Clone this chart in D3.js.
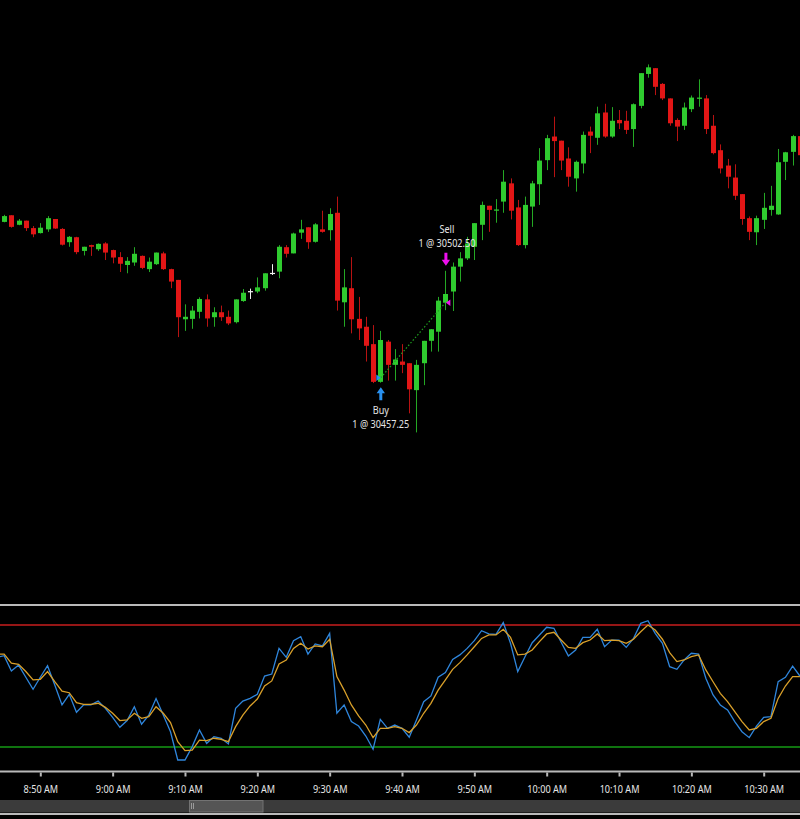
<!DOCTYPE html>
<html><head><meta charset="utf-8">
<script src="https://cdn.jsdelivr.net/npm/d3@7/dist/d3.min.js"></script>
<style>
html,body{margin:0;padding:0;background:#000;overflow:hidden;}
svg{display:block;}
text{font-family:"Segoe UI","Noto Sans","Open Sans",sans-serif;}
</style></head><body>
<svg id="chart" width="800" height="819"></svg>
<script>
// ---------------- DATA ----------------
const firstBarTime = "08:45";
const barMinutes = 1;

const opens = [
30551.25,30555.25,30549.5,30552,30547.5,30544.5,30546.75,30553,30547,30539,
30542,30533.75,30537.25,30534.75,30538.25,30534.25,30530,30525.25,30526.75,30530.75,
30522.75,30525.75,30532.25,30522.75,30516.25,30492.5,30492.75,30497,30504.5,30493.75,
30496.75,30494,30490.75,30503.5,30509.5,30509.25,30511.25,30520.5,30521.25,30536,
30532.25,30544.75,30548,30539.25,30546.75,30546.25,30556.75,30502.75,30511.25,30492.75,
30488,30477.5,30454.75,30479,30465,30467,30466,30449.75,30466,30479.5,
30485,30502.5,30509.25,30524.25,30529.25,30536.25,30549.5,30561,30558,30563.5,
30574.5,30560,30537.25,30560.5,30574,30588.5,30602.75,30600.25,30589.5,30577.5,
30586.5,30605.75,30602,30617.25,30602.75,30612.75,30612.25,30607.25,30621.25,30640.5,
30644,30634.5,30625.75,30612.75,30609.25,30619.25,30625.5,30625.75,30609.25,30594.5,
30585.25,30578,30568,30553.5,30545,30552.5,30558.5,30555.75,30587.5,30593.5,
30603];
const highs = [
30555.5,30555.25,30553,30552,30548.75,30550.5,30554.75,30553,30547.5,30542.75,
30542.25,30536.25,30537.5,30538.25,30539,30534.5,30533,30530,30536,30531,
30529.75,30532.75,30533.25,30523,30516.25,30501.5,30500.5,30505.75,30507.5,30499.75,
30500.75,30497.75,30504.5,30510.75,30511,30517.75,30520.25,30525.75,30537.25,30537.25,
30544.75,30552.5,30548,30550.5,30558,30559.5,30566.5,30522.75,30530,30506,
30494,30489,30485.5,30480,30474.5,30477.5,30466,30468,30479.5,30486.5,
30506,30521.75,30526.75,30533,30542.25,30550.5,30563.5,30561,30565,30582.5,
30577.5,30564.5,30566.5,30576,30595.75,30603.75,30614.75,30600.25,30596.25,30588.25,
30605.75,30608.75,30620.75,30622.5,30620.5,30618.75,30618.25,30622.75,30641,30646.25,
30644,30635,30625.75,30613.75,30623.25,30627.5,30637.25,30627.75,30615.75,30598,
30589.25,30586,30568,30554.5,30555,30568.75,30573,30595.25,30593.5,30603.75,
30609.75];
const lows = [
30551,30547.75,30549.25,30545.75,30542,30544.25,30545.25,30547,30537,30536.25,
30531.75,30531,30530.75,30533.75,30528.25,30526.25,30521,30520.25,30524.75,30522.75,
30521,30525.25,30522.25,30511.25,30481.75,30485.5,30486.75,30493,30488,30488,
30491.5,30489,30490,30503,30504.75,30508.25,30509.75,30519.25,30517.25,30529.75,
30532.25,30541,30535,30538.75,30544.75,30540,30497.75,30488,30484,30480,
30467,30454,30454.25,30455.5,30455.5,30460,30435.75,30424.25,30452.75,30473,
30473,30498,30497.5,30515.25,30528.25,30528.25,30540.25,30545.25,30550.75,30556.75,
30552.75,30536.75,30535.25,30548.25,30561.5,30582.5,30578.25,30582.5,30572.5,30569.5,
30580.5,30592.75,30597.75,30602,30602,30607.25,30604.25,30596.5,30619.75,30638.25,
30627.75,30624.75,30609.25,30600,30606.75,30617.5,30620.75,30604.25,30592,30580.5,
30571.5,30564.5,30549.5,30540.25,30537.25,30547,30555,30555.5,30576.5,30585.25,
30589.75];
const closes = [
30554.75,30548.25,30552,30547.5,30543.75,30547.75,30553.5,30547.25,30537.5,30542.25,
30533,30536.25,30536.25,30538,30532.75,30529.75,30526,30527.75,30532,30523.5,
30527.25,30532.75,30522.75,30515.25,30493.75,30494,30497.75,30504.75,30493,30496.75,
30493.75,30490,30504.5,30508.5,30509.5,30511.75,30520.25,30520.5,30536.25,30532,
30544.25,30546.75,30539,30549.75,30545.25,30556,30503.75,30511.75,30492.5,30487,
30476.5,30454.75,30480,30465,30468.25,30465,30450.25,30465,30479.5,30486.5,
30503.75,30507.75,30524.25,30529.25,30538.25,30550.5,30561.5,30558.5,30558.75,30575.5,
30558,30537.25,30561.5,30574.5,30588.25,30601.75,30600,30588.25,30578.5,30587.5,
30603.75,30603.25,30616.75,30602.75,30612.25,30610.75,30606.75,30622.25,30641,30644.5,
30632.75,30625.75,30610.75,30608.75,30620.25,30626.25,30626.25,30607.25,30592.75,30583.5,
30578.5,30567,30553,30545.25,30553.5,30559.75,30561,30587.25,30593.25,30603,
30591.5];

// Stochastics (%K blue, %D orange), first value at stochStartTime
const stochStartTime = "08:44";
const stochK = [
64.1,64.9,57.4,60.3,54.3,48.4,54.3,60.0,50.5,40.7,
45.9,37.1,40.7,40.7,42.6,39.0,34.6,29.7,33.0,39.8,
31.2,35.7,43.8,35.7,27.5,13.6,13.6,20.2,28.4,21.8,
25.1,24.3,21.5,39.0,42.6,43.9,45.9,54.9,55.9,68.5,
64.1,72.3,74.3,65.7,70.7,69.7,75.9,36.6,40.7,32.5,
30.3,25.4,18.9,33.6,29.2,30.8,29.2,24.8,33.3,42.3,
45.1,54.3,56.6,63.1,65.3,68.5,72.3,77.2,75.6,75.4,
81.2,71.0,57.1,64.4,71.3,75.1,78.9,78.4,71.5,64.8,
67.7,73.9,73.9,77.9,69.3,72.6,72.6,69.0,73.4,80.8,
82.1,75.9,71.0,59.5,58.2,62.8,66.1,65.7,53.8,45.6,
40.7,38.2,32.5,27.5,24.6,30.3,34.6,34.9,52.1,54.3,
59.8,54.9];
const stochD = [
65.7,65.7,61.2,60.7,57.1,53.0,53.3,57.1,52.1,47.5,
46.7,41.8,41.0,41.0,41.5,39.5,36.6,33.0,33.3,36.6,
34.1,34.9,39.8,36.6,32.0,22.6,18.2,18.5,23.4,23.1,
24.3,23.8,22.6,30.0,35.7,40.2,43.6,50.0,52.5,60.8,
62.8,68.5,71.0,68.2,69.7,69.3,73.0,54.6,48.0,40.7,
35.3,30.8,24.6,29.2,29.2,30.0,29.2,27.1,30.8,36.6,
41.5,48.0,53.0,58.2,61.5,65.3,69.3,73.4,75.1,75.1,
77.9,73.9,65.3,65.7,67.7,71.8,75.6,76.4,72.6,69.0,
68.5,71.3,72.6,75.6,72.3,72.6,72.3,71.0,73.0,76.7,
80.0,77.5,73.0,66.4,62.0,62.8,64.4,65.3,57.9,52.1,
46.4,42.3,37.4,32.5,28.4,29.2,32.5,34.1,43.9,50.0,
54.6,54.6];
const overbought = 80, oversold = 20;

const tickLabels = ["8:50 AM","9:00 AM","9:10 AM","9:20 AM","9:30 AM","9:40 AM",
                    "9:50 AM","10:00 AM","10:10 AM","10:20 AM","10:30 AM"];

const trades = [
  {side:"Buy",  time:"09:37", qty:1, price:30457.25},
  {side:"Sell", time:"09:46", qty:1, price:30502.50}
];

// ---------------- LAYOUT ----------------
const W = 800, H = 819;
const priceTopY = 0, priceBottomY = 600;
const priceAtTop = 30685.12, priceAtBottom = 30323.14;
const panelTop = 607, panelBottom = 770;
const sepY = 605, axisY = 771.5;
const fontScaleX = 0.83;
const markFont = 10, markScaleX = 0.91;

const parseHM = d3.timeParse("%H:%M");
const parseTick = d3.timeParse("%I:%M %p");
const tickTimes = tickLabels.map(parseTick);

const x = d3.scaleTime()
  .domain([tickTimes[0], tickTimes[tickTimes.length-1]])
  .range([40.3, 763.7]);
const y = d3.scaleLinear().domain([priceAtBottom, priceAtTop]).range([priceBottomY, priceTopY]);
const yS = d3.scaleLinear().domain([oversold, overbought]).range([747, 625]);

const t0 = parseHM(firstBarTime);
const bars = opens.map((o,i)=>({
  t: d3.timeMinute.offset(t0, i*barMinutes), o, h:highs[i], l:lows[i], c:closes[i]
}));
const s0 = parseHM(stochStartTime);
const kPts = stochK.map((v,i)=>({t:d3.timeMinute.offset(s0,i*barMinutes), v}));
const dPts = stochD.map((v,i)=>({t:d3.timeMinute.offset(s0,i*barMinutes), v}));

const svg = d3.select("#chart");
svg.append("rect").attr("width",W).attr("height",H).attr("fill","#000");

const defs = svg.append("defs");
defs.append("clipPath").attr("id","clipPrice").append("rect")
  .attr("x",0).attr("y",0).attr("width",W).attr("height",603);
defs.append("clipPath").attr("id","clipInd").append("rect")
  .attr("x",0).attr("y",panelTop).attr("width",W).attr("height",panelBottom-panelTop);

// ---------------- PRICE PANEL ----------------
const UP="#2fcb2f", DN="#e21616", DOJI="#f0f0f0";
const UPW="#24a824", DNW="#b81212";
const bodyW = 5;
const gP = svg.append("g").attr("clip-path","url(#clipPrice)");
const candles = gP.selectAll("g.c").data(bars).join("g").attr("class","c");
candles.append("line")
  .attr("x1",d=>Math.round(x(d.t))+0.5).attr("x2",d=>Math.round(x(d.t))+0.5)
  .attr("y1",d=>y(d.h)).attr("y2",d=>y(d.l))
  .attr("stroke",d=>d.c>d.o?UPW:(d.c<d.o?DNW:DOJI)).attr("stroke-width",1);
candles.append("rect")
  .attr("x",d=>Math.round(x(d.t))+0.5-bodyW/2)
  .attr("y",d=>y(Math.max(d.o,d.c)))
  .attr("width",bodyW)
  .attr("height",d=>Math.max(1.2, Math.abs(y(d.o)-y(d.c))))
  .attr("fill",d=>d.c>d.o?UP:(d.c<d.o?DN:DOJI));

// trades
const tradeInfo = trades.map(tr=>{
  const tt = parseHM(tr.time);
  const bar = bars.find(b=>+b.t===+tt);
  return {...tr, t:tt, bar};
});
const buy = tradeInfo.find(d=>d.side==="Buy"), sell = tradeInfo.find(d=>d.side==="Sell");
const BLUE="#2990ee", MAG="#ee10ee";
gP.append("line")
  .attr("x1",x(buy.t)+0.5).attr("y1",y(buy.price))
  .attr("x2",x(sell.t)).attr("y2",y(sell.price))
  .attr("stroke","#1fa01f").attr("stroke-width",1.2).attr("stroke-dasharray","1.5,2");
tradeInfo.forEach(d=>{
  const cx = x(d.t), cy = y(d.price);
  if(d.side==="Buy"){
    gP.append("path").attr("d",`M${cx+0.5},${cy} L${cx-4},${cy-3.2} L${cx-4},${cy+3.2}Z`).attr("fill",BLUE);
  } else {
    gP.append("path").attr("d",`M${cx+0.5},${cy} L${cx+5},${cy-3.2} L${cx+5},${cy+3.2}Z`).attr("fill",MAG);
  }
});
function label(cx, baseY, txt){
  gP.append("text").attr("transform",`translate(${cx},${baseY}) scale(${markScaleX},1)`)
    .attr("text-anchor","middle").attr("fill","#e6e6e6").attr("font-size",markFont+"px").text(txt);
}
tradeInfo.forEach(d=>{
  const cx = x(d.t)+0.5;
  const lbl1 = d.side, lbl2 = `${d.qty} @ ${d.price.toFixed(2)}`;
  if(d.side==="Buy"){
    const top = y(d.bar.l)+4.5;
    gP.append("path")
      .attr("d",`M${cx},${top} L${cx+4.2},${top+6} L${cx+1.5},${top+6} L${cx+1.5},${top+13} L${cx-1.5},${top+13} L${cx-1.5},${top+6} L${cx-4.2},${top+6}Z`)
      .attr("fill",BLUE);
    label(cx, top+27, lbl1);
    label(cx, top+41, lbl2);
  } else {
    const bot = y(d.bar.h)-5;
    gP.append("path")
      .attr("d",`M${cx},${bot} L${cx+4.2},${bot-6} L${cx+1.5},${bot-6} L${cx+1.5},${bot-13} L${cx-1.5},${bot-13} L${cx-1.5},${bot-6} L${cx-4.2},${bot-6}Z`)
      .attr("fill",MAG);
    label(cx+1, bot-33, lbl1);
    label(cx+1, bot-19, lbl2);
  }
});

// ---------------- SEPARATOR ----------------
svg.append("line").attr("x1",0).attr("x2",W).attr("y1",sepY).attr("y2",sepY)
  .attr("stroke","#b9b9b9").attr("stroke-width",2);

// ---------------- INDICATOR PANEL ----------------
const gI = svg.append("g").attr("clip-path","url(#clipInd)");
[[overbought,"#c81e1e"],[oversold,"#159a15"]].forEach(([v,col])=>{
  gI.append("line").attr("x1",0).attr("x2",W).attr("y1",yS(v)).attr("y2",yS(v))
    .attr("stroke",col).attr("stroke-width",1.3);
});
const line = d3.line().x(d=>x(d.t)).y(d=>yS(d.v));
gI.append("path").datum(kPts).attr("d",line).attr("fill","none")
  .attr("stroke","#2f86dc").attr("stroke-width",1.3);
gI.append("path").datum(dPts).attr("d",line).attr("fill","none")
  .attr("stroke","#d9a02a").attr("stroke-width",1.3);

// ---------------- TIME AXIS ----------------
svg.append("line").attr("x1",0).attr("x2",W).attr("y1",axisY).attr("y2",axisY)
  .attr("stroke","#b9b9b9").attr("stroke-width",2);
const axis = d3.axisBottom(x).tickValues(tickTimes)
  .tickFormat((d,i)=>tickLabels[i]).tickSizeInner(4).tickSizeOuter(0).tickPadding(9);
const gA = svg.append("g").attr("transform",`translate(0,${axisY+1})`).call(axis);
gA.select(".domain").remove();
gA.selectAll(".tick line").attr("stroke","#b9b9b9").attr("stroke-width",2);
gA.selectAll(".tick text").attr("fill","#e6e6e6").attr("font-size","11px")
  .attr("font-family",'"Segoe UI","Noto Sans","Open Sans",sans-serif')
  .attr("transform",`scale(${fontScaleX},1)`);

// ---------------- SCROLLBAR ----------------
svg.append("rect").attr("x",0).attr("y",800).attr("width",W).attr("height",12.5).attr("fill","#3b3b3b");
svg.append("rect").attr("x",189.5).attr("y",800.5).attr("width",73.5).attr("height",11.5)
  .attr("fill","#555").attr("stroke","#737373").attr("stroke-width",1);
[191.5,193.5].forEach(gx=>svg.append("line").attr("x1",gx).attr("x2",gx).attr("y1",803).attr("y2",809)
  .attr("stroke","#9a9a9a").attr("stroke-width",1));
svg.append("line").attr("x1",0).attr("x2",W).attr("y1",814).attr("y2",814)
  .attr("stroke","#b9b9b9").attr("stroke-width",2);
</script>
</body></html>
